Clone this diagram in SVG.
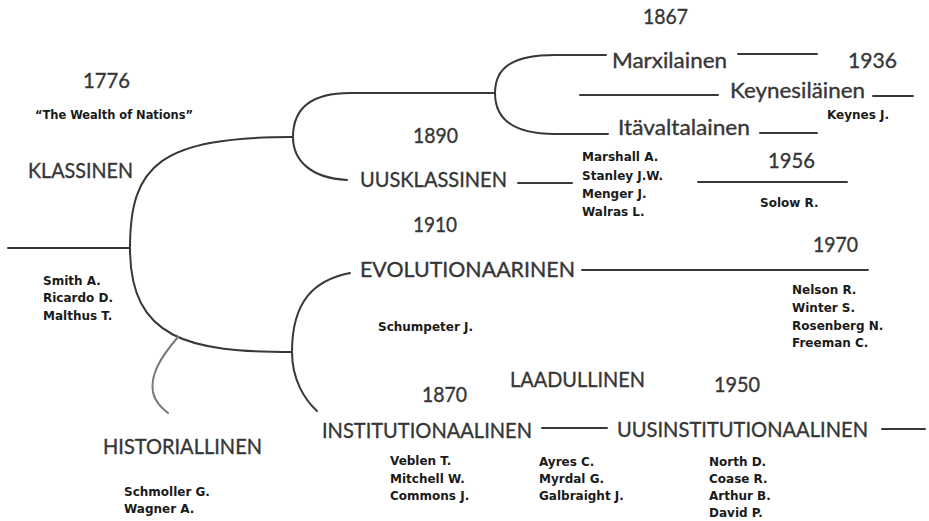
<svg xmlns="http://www.w3.org/2000/svg" width="929" height="521" viewBox="0 0 929 521">
  <style>
    .bg { fill: #ffffff; }
    .lbl { font-family: Lato, "Open Sans", "Liberation Sans", sans-serif; font-size: 21px; fill: #363636; stroke: #363636; stroke-width: 0.35; }
    .yr { font-family: Lato, "Open Sans", "Liberation Sans", sans-serif; font-size: 21px; fill: #363636; stroke: #363636; stroke-width: 0.35; }
    .nm { font-family: "DejaVu Sans", "Liberation Sans", sans-serif; font-weight: bold; font-size: 12px; fill: #1a1a1a; }
    .ln { fill: none; stroke: #383838; stroke-width: 2; stroke-linecap: round; }
    .ln-soft { fill: none; stroke: #7a7a7a; stroke-width: 2; stroke-linecap: round; }
  </style>
  <rect class="bg" x="0" y="0" width="929" height="521"/>

  <!-- branch lines of the tree -->
  <g id="connectors">
    <path class="ln" d="M8,248 H130"/>
    <path class="ln" d="M130,248 C130,165 160,137 293,137"/>
    <path class="ln" d="M130,248 C130,340 190,352 292,352"/>
    <path class="ln" d="M293,137 C293,108 312,93 350,93 H495"/>
    <path class="ln" d="M293,137 C293,160 310,178 347,180"/>
    <path class="ln" d="M518,183 H572"/>
    <path class="ln" d="M495,93 C495,66 515,55 555,55 H606"/>
    <path class="ln" d="M495,93 C495,120 515,134 555,134 H608"/>
    <path class="ln" d="M580,95 H718"/>
    <path class="ln" d="M738,54 H817"/>
    <path class="ln" d="M873,96 H913"/>
    <path class="ln" d="M760,133 H817"/>
    <path class="ln" d="M698,182 H847"/>
    <path class="ln" d="M292,352 C292,300 315,280 350,273"/>
    <path class="ln" d="M582,270 H868"/>
    <path class="ln" d="M292,352 C292,380 305,400 317,411"/>
    <path class="ln" d="M542,428 H607"/>
    <path class="ln" d="M882,429 H925"/>
    <path class="ln-soft" d="M178,337 C160,358 150,375 153,392 C155,402 162,408 168,413"/>
  </g>

  <g id="klassinen">
    <text class="yr" x="83" y="88" textLength="47" lengthAdjust="spacingAndGlyphs">1776</text>
    <text class="nm" x="35" y="119" textLength="158" lengthAdjust="spacingAndGlyphs">“The Wealth of Nations”</text>
    <text class="lbl" x="28" y="178" textLength="105" lengthAdjust="spacingAndGlyphs">KLASSINEN</text>
    <text class="nm" x="43" y="285">Smith A.</text>
    <text class="nm" x="43" y="302">Ricardo D.</text>
    <text class="nm" x="43" y="320">Malthus T.</text>
  </g>

  <g id="marxilainen">
    <text class="yr" x="643" y="24" textLength="45" lengthAdjust="spacingAndGlyphs">1867</text>
    <text class="lbl" x="612" y="68" textLength="115" lengthAdjust="spacingAndGlyphs">Marxilainen</text>
  </g>

  <g id="keynesilainen">
    <text class="yr" x="848" y="68" textLength="49" lengthAdjust="spacingAndGlyphs">1936</text>
    <text class="lbl" x="730" y="98" textLength="135" lengthAdjust="spacingAndGlyphs">Keynesiläinen</text>
    <text class="nm" x="827" y="119">Keynes J.</text>
  </g>

  <g id="itavaltalainen">
    <text class="lbl" x="618" y="135" textLength="132" lengthAdjust="spacingAndGlyphs">Itävaltalainen</text>
  </g>

  <g id="uusklassinen">
    <text class="yr" x="413" y="143" textLength="45" lengthAdjust="spacingAndGlyphs">1890</text>
    <text class="lbl" x="360" y="187" textLength="147" lengthAdjust="spacingAndGlyphs">UUSKLASSINEN</text>
    <text class="nm" x="582" y="161">Marshall A.</text>
    <text class="nm" x="582" y="179.5">Stanley J.W.</text>
    <text class="nm" x="582" y="197.5">Menger J.</text>
    <text class="nm" x="582" y="216">Walras L.</text>
  </g>

  <g id="solow">
    <text class="yr" x="768" y="168" textLength="47" lengthAdjust="spacingAndGlyphs">1956</text>
    <text class="nm" x="760" y="207">Solow R.</text>
  </g>

  <g id="evolutionaarinen">
    <text class="yr" x="413" y="232" textLength="44" lengthAdjust="spacingAndGlyphs">1910</text>
    <text class="lbl" x="360" y="277" textLength="215" lengthAdjust="spacingAndGlyphs">EVOLUTIONAARINEN</text>
    <text class="nm" x="378" y="331">Schumpeter J.</text>
  </g>

  <g id="evolutionaarinen-1970">
    <text class="yr" x="813" y="252" textLength="45" lengthAdjust="spacingAndGlyphs">1970</text>
    <text class="nm" x="792" y="294">Nelson R.</text>
    <text class="nm" x="792" y="312">Winter S.</text>
    <text class="nm" x="792" y="330">Rosenberg N.</text>
    <text class="nm" x="792" y="347">Freeman C.</text>
  </g>

  <g id="institutionaalinen">
    <text class="yr" x="422" y="402" textLength="45" lengthAdjust="spacingAndGlyphs">1870</text>
    <text class="lbl" x="322" y="438" textLength="210" lengthAdjust="spacingAndGlyphs">INSTITUTIONAALINEN</text>
    <text class="nm" x="390" y="465">Veblen T.</text>
    <text class="nm" x="390" y="483">Mitchell W.</text>
    <text class="nm" x="390" y="500">Commons J.</text>
  </g>

  <g id="laadullinen">
    <text class="lbl" x="510" y="387" textLength="135" lengthAdjust="spacingAndGlyphs">LAADULLINEN</text>
    <text class="nm" x="539" y="466">Ayres C.</text>
    <text class="nm" x="539" y="483">Myrdal G.</text>
    <text class="nm" x="539" y="500">Galbraight J.</text>
  </g>

  <g id="uusinstitutionaalinen">
    <text class="yr" x="714" y="392" textLength="46" lengthAdjust="spacingAndGlyphs">1950</text>
    <text class="lbl" x="617" y="437" textLength="251" lengthAdjust="spacingAndGlyphs">UUSINSTITUTIONAALINEN</text>
    <text class="nm" x="709" y="466">North D.</text>
    <text class="nm" x="709" y="483">Coase R.</text>
    <text class="nm" x="709" y="500">Arthur B.</text>
    <text class="nm" x="709" y="517">David P.</text>
  </g>

  <g id="historiallinen">
    <text class="lbl" x="103" y="454" textLength="159" lengthAdjust="spacingAndGlyphs">HISTORIALLINEN</text>
    <text class="nm" x="124" y="496">Schmoller G.</text>
    <text class="nm" x="124" y="513">Wagner A.</text>
  </g>
</svg>
